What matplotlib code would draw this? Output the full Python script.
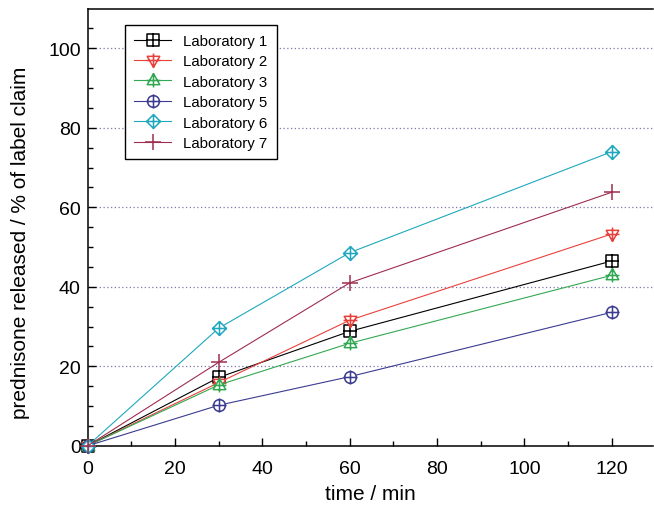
import numpy as np
import matplotlib
matplotlib.use('Agg')
import matplotlib.pyplot as plt
from matplotlib.path import Path

plt.rcParams['font.family'] = ['Liberation Sans', 'DejaVu Sans']

# sampling times and release data (% of label claim)
time_min = [0, 30, 60, 120]
labs = ['Laboratory 1', 'Laboratory 2', 'Laboratory 3', 'Laboratory 5', 'Laboratory 6', 'Laboratory 7']
lab1 = [0, 17.2, 28.8, 46.5]
lab2 = [0, 15.9, 31.6, 53.3]
lab3 = [0, 15.3, 25.8, 42.9]
lab5 = [0, 10.2, 17.4, 33.6]
lab6 = [0, 29.6, 48.6, 74.0]
lab7 = [0, 21.0, 41.0, 63.8]
colors = ['black', '#e8413c', '#33a852', '#3b3b90', '#1fa8bd', '#9e2d4f']

# open shapes with a cross inside, like Origin's "plus" symbols
cross = Path([(-1, 0), (1, 0), (0, -1), (0, 1)],
             [Path.MOVETO, Path.LINETO, Path.MOVETO, Path.LINETO])
def crossed(verts):
    shape = Path(verts + [verts[0]], [Path.MOVETO] + [Path.LINETO] * (len(verts) - 1) + [Path.CLOSEPOLY])
    return Path.make_compound_path(shape, cross)

sq = crossed([(-0.8, -0.8), (0.8, -0.8), (0.8, 0.8), (-0.8, 0.8)])
tri_dn = crossed([(0, -1), (0.9, 0.6), (-0.9, 0.6)])
tri_up = crossed([(0, 1), (0.9, -0.6), (-0.9, -0.6)])
circ = Path.make_compound_path(Path.circle((0, 0), 0.85), cross)
diam = crossed([(0, 1), (1, 0), (0, -1), (-1, 0)])
markers = [sq, tri_dn, tri_up, circ, diam, '+']

fig = plt.figure(figsize=(6.54, 5.06), dpi=100)
ax = fig.add_axes([0.134, 0.117, 0.865, 0.864])

series = [lab1, lab2, lab3, lab5, lab6, lab7]
for vals, name, c, m in zip(series, labs, colors, markers):
    ms = 12 if m == '+' else 10
    ax.plot(time_min, vals, color=c, lw=0.8, marker=m, ms=ms, mew=1.1,
            mfc='white' if m != '+' else c, mec=c, label=name, clip_on=False, zorder=3)

ax.set_xlim(0, 129.5)
ax.set_ylim(0, 110)
ax.set_xticks(np.arange(0, 121, 20))
ax.set_xticks(np.arange(0, 121, 10), minor=True)
ax.set_yticks(np.arange(0, 101, 20))
ax.set_yticks(np.arange(0, 106, 5), minor=True)
ax.tick_params(which='both', direction='in', labelsize=14, width=1)
ax.tick_params(which='major', length=6)
ax.tick_params(which='minor', length=3.5)
ax.tick_params(axis='x', which='major', pad=10)
ax.tick_params(axis='y', which='major', pad=5)
ax.spines['right'].set_visible(False)
for s in ['left', 'bottom', 'top']:
    ax.spines[s].set_linewidth(1.1)

for yv in range(20, 101, 20):
    ax.axhline(yv, color='#7a7aa8', lw=0.9, ls=(0, (1, 2)), zorder=1)

ax.set_xlabel('time / min', fontsize=15, labelpad=5)
ax.set_ylabel('prednisone released / % of label claim', fontsize=15, labelpad=9)
ax.yaxis.set_label_coords(-0.102, 0.467)

leg = ax.legend(loc='upper left', bbox_to_anchor=(0.066, 0.963), borderaxespad=0,
                fontsize=10.8, fancybox=False, edgecolor='black', framealpha=1,
                handlelength=2.5, handletextpad=0.8, labelspacing=0.43, borderpad=0.6)
leg.get_frame().set_linewidth(1)

plt.savefig('out.png', dpi=100)
